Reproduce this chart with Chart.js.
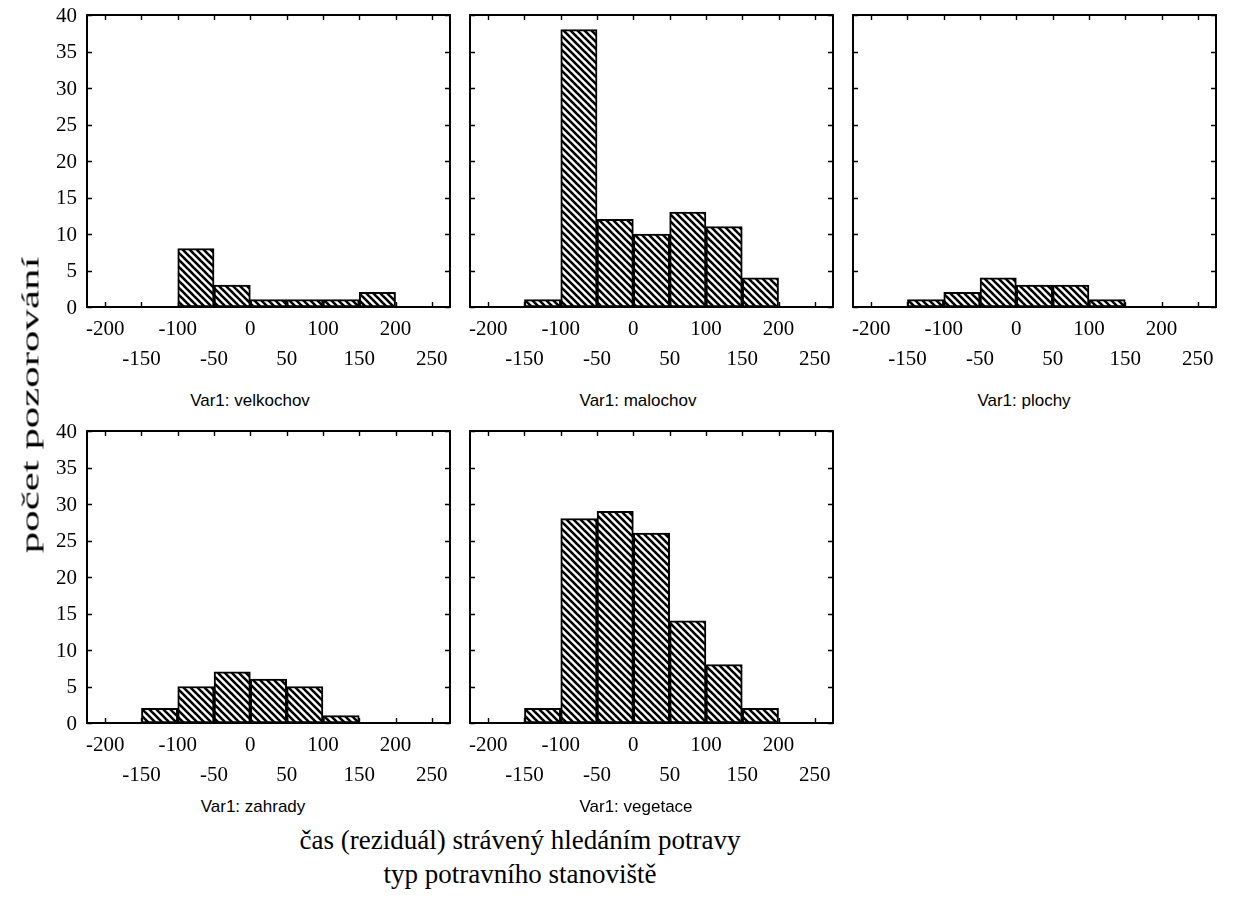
<!DOCTYPE html>
<html>
<head>
<meta charset="utf-8">
<title>počet pozorování</title>
<script src="https://cdn.jsdelivr.net/npm/chart.js@4.4.1/dist/chart.umd.min.js"></script>
<style>
  body { margin: 0; background: #fff; width: 1234px; height: 908px; position: relative; overflow: hidden; }
  canvas.panel { position: absolute; }
  .lbl {
    position: absolute; font-family: "Liberation Sans", Arial, sans-serif; font-size: 17px;
    line-height: 17px; color: #000; white-space: nowrap; transform: translate(-50%, -50%);
  }
  .ttl {
    position: absolute; font-family: "Liberation Serif", "Times New Roman", serif; font-size: 27px;
    line-height: 27px; color: #000; white-space: nowrap; transform: translate(-50%, -50%);
  }
  .ttl.rot { font-size: 26px; transform: translate(-50%, -50%) rotate(-90deg) scaleX(1.65); }
</style>
</head>
<body>
<script>
// histogram bins (centres, width 50) and counts per habitat
const binCentres = [-125, -75, -25, 25, 75, 125, 175];
const velkochov  = [0, 8, 3, 1, 1, 1, 2];
const malochov   = [1, 38, 12, 10, 13, 11, 4];
const plochy     = [1, 2, 4, 3, 3, 1, 0];
const zahrady    = [2, 5, 7, 6, 5, 1, 0];
const vegetace   = [2, 28, 29, 26, 14, 8, 2];

const xTicks = [-200, -150, -100, -50, 0, 50, 100, 150, 200, 250];
const yTicks = [0, 5, 10, 15, 20, 25, 30, 35, 40];

// panel placement (plot area in page pixels)
const PLOT_W = 363, PLOT_H = 292;
const AX_W = 60, AX_H = 70, PAD_T = 12, PAD_R = 14;
const panels = [
  { name: 'velkochov', counts: velkochov, left: 87,  top: 15,  showY: true,  lblX: 250,  lblY: 400 },
  { name: 'malochov',  counts: malochov,  left: 470, top: 15,  showY: false, lblX: 638,  lblY: 400 },
  { name: 'plochy',    counts: plochy,    left: 853, top: 15,  showY: false, lblX: 1024, lblY: 400 },
  { name: 'zahrady',   counts: zahrady,   left: 87,  top: 431, showY: true,  lblX: 253,  lblY: 806 },
  { name: 'vegetace',  counts: vegetace,  left: 470, top: 431, showY: false, lblX: 636,  lblY: 806 }
];

const serif = '"Liberation Serif", "Times New Roman", serif';

// diagonal "\\\" hatch used for all bars
function makeHatch() {
  const n = 7;
  const c = document.createElement('canvas');
  c.width = n; c.height = n;
  const g = c.getContext('2d');
  g.fillStyle = '#fff';
  g.fillRect(0, 0, n, n);
  g.strokeStyle = '#000';
  g.lineWidth = 2.6;
  for (const k of [-n, 0, n]) {
    g.beginPath();
    g.moveTo(k - 1, -1);
    g.lineTo(k + n + 1, n + 1);
    g.stroke();
  }
  return g.createPattern(c, 'repeat');
}

// frame round the plot area, short inward ticks on all four sides,
// and the count labels on the left-hand panels
const framePlugin = {
  id: 'frame',
  afterDatasetsDraw(chart, args, opts) {
    const { ctx, chartArea: a, scales: { x, y } } = chart;
    ctx.save();
    ctx.strokeStyle = '#000';
    ctx.lineWidth = 1.4;
    ctx.beginPath();
    for (const v of xTicks) {
      const px = Math.round(x.getPixelForValue(v)) + 0.5;
      ctx.moveTo(px, a.bottom); ctx.lineTo(px, a.bottom - 5);
      ctx.moveTo(px, a.top);    ctx.lineTo(px, a.top + 5);
    }
    for (const v of yTicks) {
      const py = Math.round(y.getPixelForValue(v)) + 0.5;
      ctx.moveTo(a.left, py);  ctx.lineTo(a.left + 5, py);
      ctx.moveTo(a.right, py); ctx.lineTo(a.right - 5, py);
    }
    ctx.stroke();
    ctx.lineWidth = 2;
    ctx.strokeRect(Math.round(a.left), Math.round(a.top), Math.round(a.right - a.left), Math.round(a.bottom - a.top));

    if (opts.showY) {
      ctx.fillStyle = '#000';
      ctx.font = '21px ' + serif;
      ctx.textAlign = 'right';
      ctx.textBaseline = 'middle';
      for (const v of yTicks) ctx.fillText(String(v), a.left - 10, y.getPixelForValue(v) + 1);
    }
    ctx.restore();
  }
};

const hatch = makeHatch();

for (const p of panels) {
  const cv = document.createElement('canvas');
  cv.className = 'panel';
  cv.width = PLOT_W + AX_W + PAD_R;
  cv.height = PLOT_H + AX_H + PAD_T;
  cv.style.left = (p.left - AX_W) + 'px';
  cv.style.top = (p.top - PAD_T) + 'px';
  document.body.appendChild(cv);

  new Chart(cv, {
    type: 'bar',
    data: {
      datasets: [{
        data: binCentres.map((b, i) => ({ x: b, y: p.counts[i] || null })),
        backgroundColor: hatch,
        borderColor: '#000',
        borderWidth: 2,
        borderSkipped: false,
        barPercentage: 1,
        categoryPercentage: 1
      }]
    },
    options: {
      responsive: false,
      animation: false,
      devicePixelRatio: 1,
      layout: { padding: { top: PAD_T, right: PAD_R, left: 0, bottom: 0 } },
      plugins: {
        legend: { display: false },
        tooltip: { enabled: false },
        frame: { showY: p.showY }
      },
      scales: {
        x: {
          type: 'linear',
          min: -225,
          max: 275,
          offset: false,
          grid: { display: false, drawTicks: false },
          border: { display: false },
          afterBuildTicks: s => { s.ticks = xTicks.map(v => ({ value: v })); },
          afterFit: s => { s.height = AX_H; },
          ticks: {
            autoSkip: false,
            maxRotation: 0,
            padding: 8,
            color: '#000',
            font: { family: serif, size: 21, lineHeight: 1.4 },
            callback: (v, i) => i % 2 === 0 ? [String(xTicks[i]), ''] : ['', String(xTicks[i])]
          }
        },
        y: {
          min: 0,
          max: 40,
          grid: { display: false, drawTicks: false },
          border: { display: false },
          afterBuildTicks: s => { s.ticks = yTicks.map(v => ({ value: v })); },
          afterFit: s => { s.width = AX_W; },
          ticks: { display: false }
        }
      }
    },
    plugins: [framePlugin]
  });

  const lbl = document.createElement('div');
  lbl.className = 'lbl';
  lbl.textContent = 'Var1: ' + p.name;
  lbl.style.left = p.lblX + 'px';
  lbl.style.top = p.lblY + 'px';
  document.body.appendChild(lbl);
}

// shared axis titles
const titles = [
  { text: 'počet pozorování', x: 30, y: 405, rot: true },
  { text: 'čas (reziduál) strávený hledáním potravy', x: 520, y: 840 },
  { text: 'typ potravního stanoviště', x: 520, y: 874 }
];
for (const t of titles) {
  const d = document.createElement('div');
  d.className = 'ttl' + (t.rot ? ' rot' : '');
  d.textContent = t.text;
  d.style.left = t.x + 'px';
  d.style.top = t.y + 'px';
  document.body.appendChild(d);
}
</script>
</body>
</html>
